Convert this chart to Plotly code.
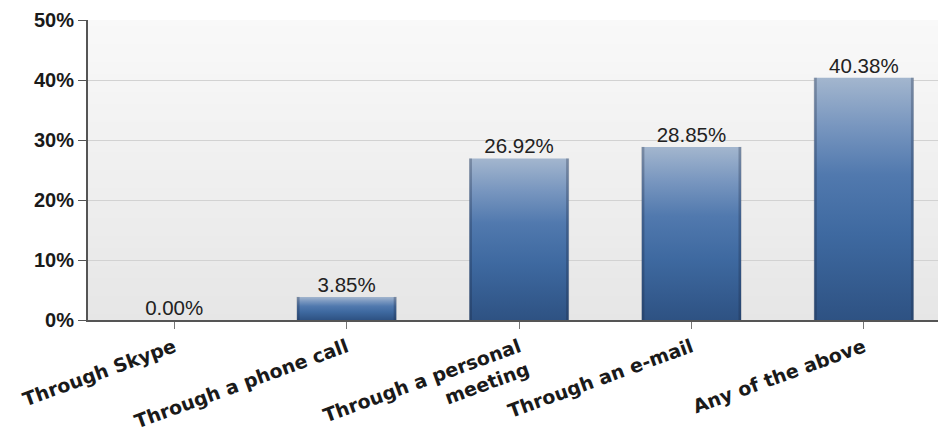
import plotly.graph_objects as go

# Survey answers and their shares (percent)
categories = [
    "Through Skype",
    "Through a phone call",
    "Through a personal<br>meeting",
    "Through an e-mail",
    "Any of the above",
]
values = [0.00, 3.85, 26.92, 28.85, 40.38]
y_ticks = [0, 10, 20, 30, 40, 50]
y_tick_labels = [f"{t}%" for t in y_ticks]

BAR_WIDTH = 0.575
positions = list(range(len(categories)))

fig = go.Figure()

# Bars drawn as filled polygons so each one gets a vertical gradient
bar_scale = [
    [0.0, "#2e5283"],
    [0.35, "#3e69a0"],
    [0.6, "#5179ae"],
    [0.8, "#7896bf"],
    [1.0, "#a3b6ce"],
]
for i, v in zip(positions, values):
    left, right = i - BAR_WIDTH / 2, i + BAR_WIDTH / 2
    if v > 0:
        fig.add_trace(go.Scatter(
            x=[left, left, right, right, left],
            y=[0, v, v, 0, 0],
            mode="lines",
            fill="toself",
            fillgradient=dict(type="vertical", colorscale=bar_scale),
            line=dict(width=0),
            hoverinfo="skip",
            showlegend=False,
        ))
        # darker side edges
        fig.add_trace(go.Scatter(
            x=[left + 1 / 172, left + 1 / 172, None, right - 1 / 172, right - 1 / 172],
            y=[0, v, None, 0, v],
            mode="lines",
            line=dict(color="rgba(25,40,65,0.3)", width=3),
            hoverinfo="skip",
            showlegend=False,
        ))

# Value labels above the bars
fig.add_trace(go.Scatter(
    x=positions,
    y=values,
    mode="text",
    text=[f"{v:.2f}%" for v in values],
    textposition="top center",
    textfont=dict(family="Liberation Sans, Arial, sans-serif", size=20.5, color="#222222"),
    hoverinfo="skip",
    showlegend=False,
))

# Soft grey background gradient for the plot area
n_bands = 50
top_c, bot_c = (249, 249, 249), (230, 230, 230)
shapes = []
for k in range(n_bands):
    t = (k + 0.5) / n_bands
    c = tuple(round(bot_c[j] + (top_c[j] - bot_c[j]) * t) for j in range(3))
    shapes.append(dict(
        type="rect", xref="paper", yref="paper",
        x0=0, x1=1, y0=k / n_bands, y1=(k + 1) / n_bands,
        fillcolor=f"rgb{c}", line=dict(width=0), layer="below",
    ))

fig.update_layout(
    width=938,
    height=433,
    margin=dict(l=88, r=0, t=20, b=113, pad=0),
    paper_bgcolor="white",
    plot_bgcolor="white",
    shapes=shapes,
    showlegend=False,
    xaxis=dict(
        range=[-0.5, 4.43],
        tickmode="array",
        tickvals=positions,
        ticktext=categories,
        tickangle=-20,
        tickfont=dict(family="DejaVu Sans, Verdana, sans-serif", size=19,
                      color="#1a1a1a", weight="bold"),
        ticks="outside",
        ticklen=7,
        tickcolor="#777777",
        tickwidth=1,
        showline=True,
        linecolor="#555555",
        linewidth=2,
        showgrid=False,
        zeroline=False,
        automargin=False,
        fixedrange=True,
    ),
    yaxis=dict(
        range=[0, 50],
        tickmode="array",
        tickvals=y_ticks,
        ticktext=y_tick_labels,
        tickfont=dict(family="Liberation Sans, Arial, sans-serif", size=20,
                      color="#1a1a1a", weight="bold"),
        ticks="outside",
        ticklen=8,
        tickcolor="#555555",
        tickwidth=1,
        showline=True,
        linecolor="#555555",
        linewidth=2,
        showgrid=True,
        gridcolor="#d2d2d2",
        gridwidth=1,
        zeroline=False,
        automargin=False,
        fixedrange=True,
    ),
)

fig.write_html("out.html")
